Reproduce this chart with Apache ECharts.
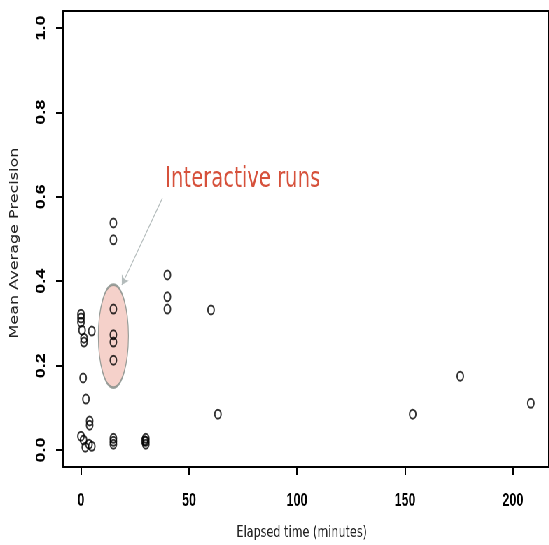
<!DOCTYPE html>
<html>
<head>
<meta charset="utf-8">
<script src="https://cdn.jsdelivr.net/npm/echarts@6/dist/echarts.min.js"></script>
<style>
html,body{margin:0;padding:0;overflow:hidden;background:#fff;width:549px;height:545px;}
#chart{width:784px;height:545px;transform:scaleX(0.7);transform-origin:0 0;}
</style>
</head>
<body>
<div id="chart"></div>
<script>
// ---- data ----
var elapsedMinutes = [0, 0, 0, 0.5, 5, 1.4, 1.4, 1, 2.3, 4, 4, 0, 1.2, 2, 5, 3.7,
  15, 15, 15, 15, 15, 15, 15, 15, 15,
  30, 30, 30, 29.5,
  40, 40, 40, 60.2, 63.4, 153.6, 175.6, 208.3];
var meanAvgPrecision = [0.322, 0.313, 0.303, 0.284, 0.282, 0.265, 0.256, 0.171, 0.121, 0.069, 0.059, 0.033, 0.024, 0.007, 0.009, 0.014,
  0.538, 0.498, 0.334, 0.273, 0.256, 0.213, 0.028, 0.021, 0.014,
  0.028, 0.021, 0.014, 0.022,
  0.415, 0.363, 0.334, 0.332, 0.085, 0.085, 0.175, 0.111];
var xTicks = [0, 50, 100, 150, 200];
var yTicks = [0, 0.2, 0.4, 0.6, 0.8, 1.0];
var xRange = [-8.3, 216.6];
var yRange = [-0.04, 1.04];
var interactiveCenter = [15, 0.27];
var arrowFrom = [37.7, 0.597];
var arrowTo = [18.9, 0.391];
var annotationText = 'Interactive runs';
var xTitle = 'Elapsed time (minutes)';
var yTitle = 'Mean Average Precision';

var points = elapsedMinutes.map(function (t, i) { return [t, meanAvgPrecision[i]]; });

var chart = echarts.init(document.getElementById('chart'), null, {renderer: 'canvas'});
chart.setOption({
  animation: false,
  backgroundColor: '#fff',
  grid: {left: 90, top: 11, width: 697, height: 456, show: false},
  xAxis: [{
    type: 'value', min: xRange[0], max: xRange[1], position: 'bottom',
    splitLine: {show: false},
    axisLine: {show: true, onZero: false, lineStyle: {color: '#000', width: 2}},
    axisTick: {show: true, inside: false, length: 8, customValues: xTicks, lineStyle: {color: '#000', width: 2}},
    axisLabel: {customValues: xTicks, margin: 25, fontFamily: 'Liberation Sans', fontWeight: 'bold', fontSize: 18, color: '#000'}
  }, {
    type: 'value', min: xRange[0], max: xRange[1], position: 'top',
    splitLine: {show: false},
    axisLine: {show: true, onZero: false, lineStyle: {color: '#000', width: 2}},
    axisTick: {show: false}, axisLabel: {show: false}
  }],
  yAxis: [{
    type: 'value', min: yRange[0], max: yRange[1], position: 'left',
    splitLine: {show: false},
    axisLine: {show: true, onZero: false, lineStyle: {color: '#000', width: 2}},
    axisTick: {show: true, inside: false, length: 10, customValues: yTicks, lineStyle: {color: '#000', width: 2}},
    axisLabel: {customValues: yTicks, rotate: 90, margin: 22, fontFamily: 'Liberation Sans', fontWeight: 'bold', fontSize: 18, color: '#000',
      formatter: function (v) { return v.toFixed(1); }}
  }, {
    type: 'value', min: yRange[0], max: yRange[1], position: 'right',
    splitLine: {show: false},
    axisLine: {show: true, onZero: false, lineStyle: {color: '#000', width: 2}},
    axisTick: {show: false}, axisLabel: {show: false}
  }],
  series: [
    {
      type: 'scatter', z: 1, silent: true,
      data: [interactiveCenter],
      symbol: 'circle', symbolSize: [43, 103],
      itemStyle: {color: '#f3c5bd', borderColor: '#808a84', borderWidth: 1.8}
    },
    {
      type: 'lines', coordinateSystem: 'cartesian2d', z: 2,
      data: [{coords: [arrowFrom, arrowTo]}],
      symbol: ['none', 'arrow'], symbolSize: 9,
      lineStyle: {color: '#b4bcbc', width: 1.2, opacity: 1}
    },
    {
      type: 'scatter', z: 3,
      data: points,
      symbol: 'circle', symbolSize: 9,
      itemStyle: {color: 'rgba(0,0,0,0)', borderColor: '#000', borderWidth: 2}
    }
  ],
  graphic: [
    {type: 'text', x: 236, y: 180, style: {text: annotationText, font: '28px "DejaVu Sans"', fill: '#d6513b', align: 'left', verticalAlign: 'middle'}},
    {type: 'text', x: 21, y: 243, rotation: Math.PI / 2, style: {text: yTitle, font: '16px "DejaVu Sans"', fill: '#222', align: 'center', verticalAlign: 'middle'}},
    {type: 'text', x: 431, y: 533, style: {text: xTitle, font: '16px "DejaVu Sans"', fill: '#222', align: 'center', verticalAlign: 'middle'}}
  ]
});
</script>
</body>
</html>
